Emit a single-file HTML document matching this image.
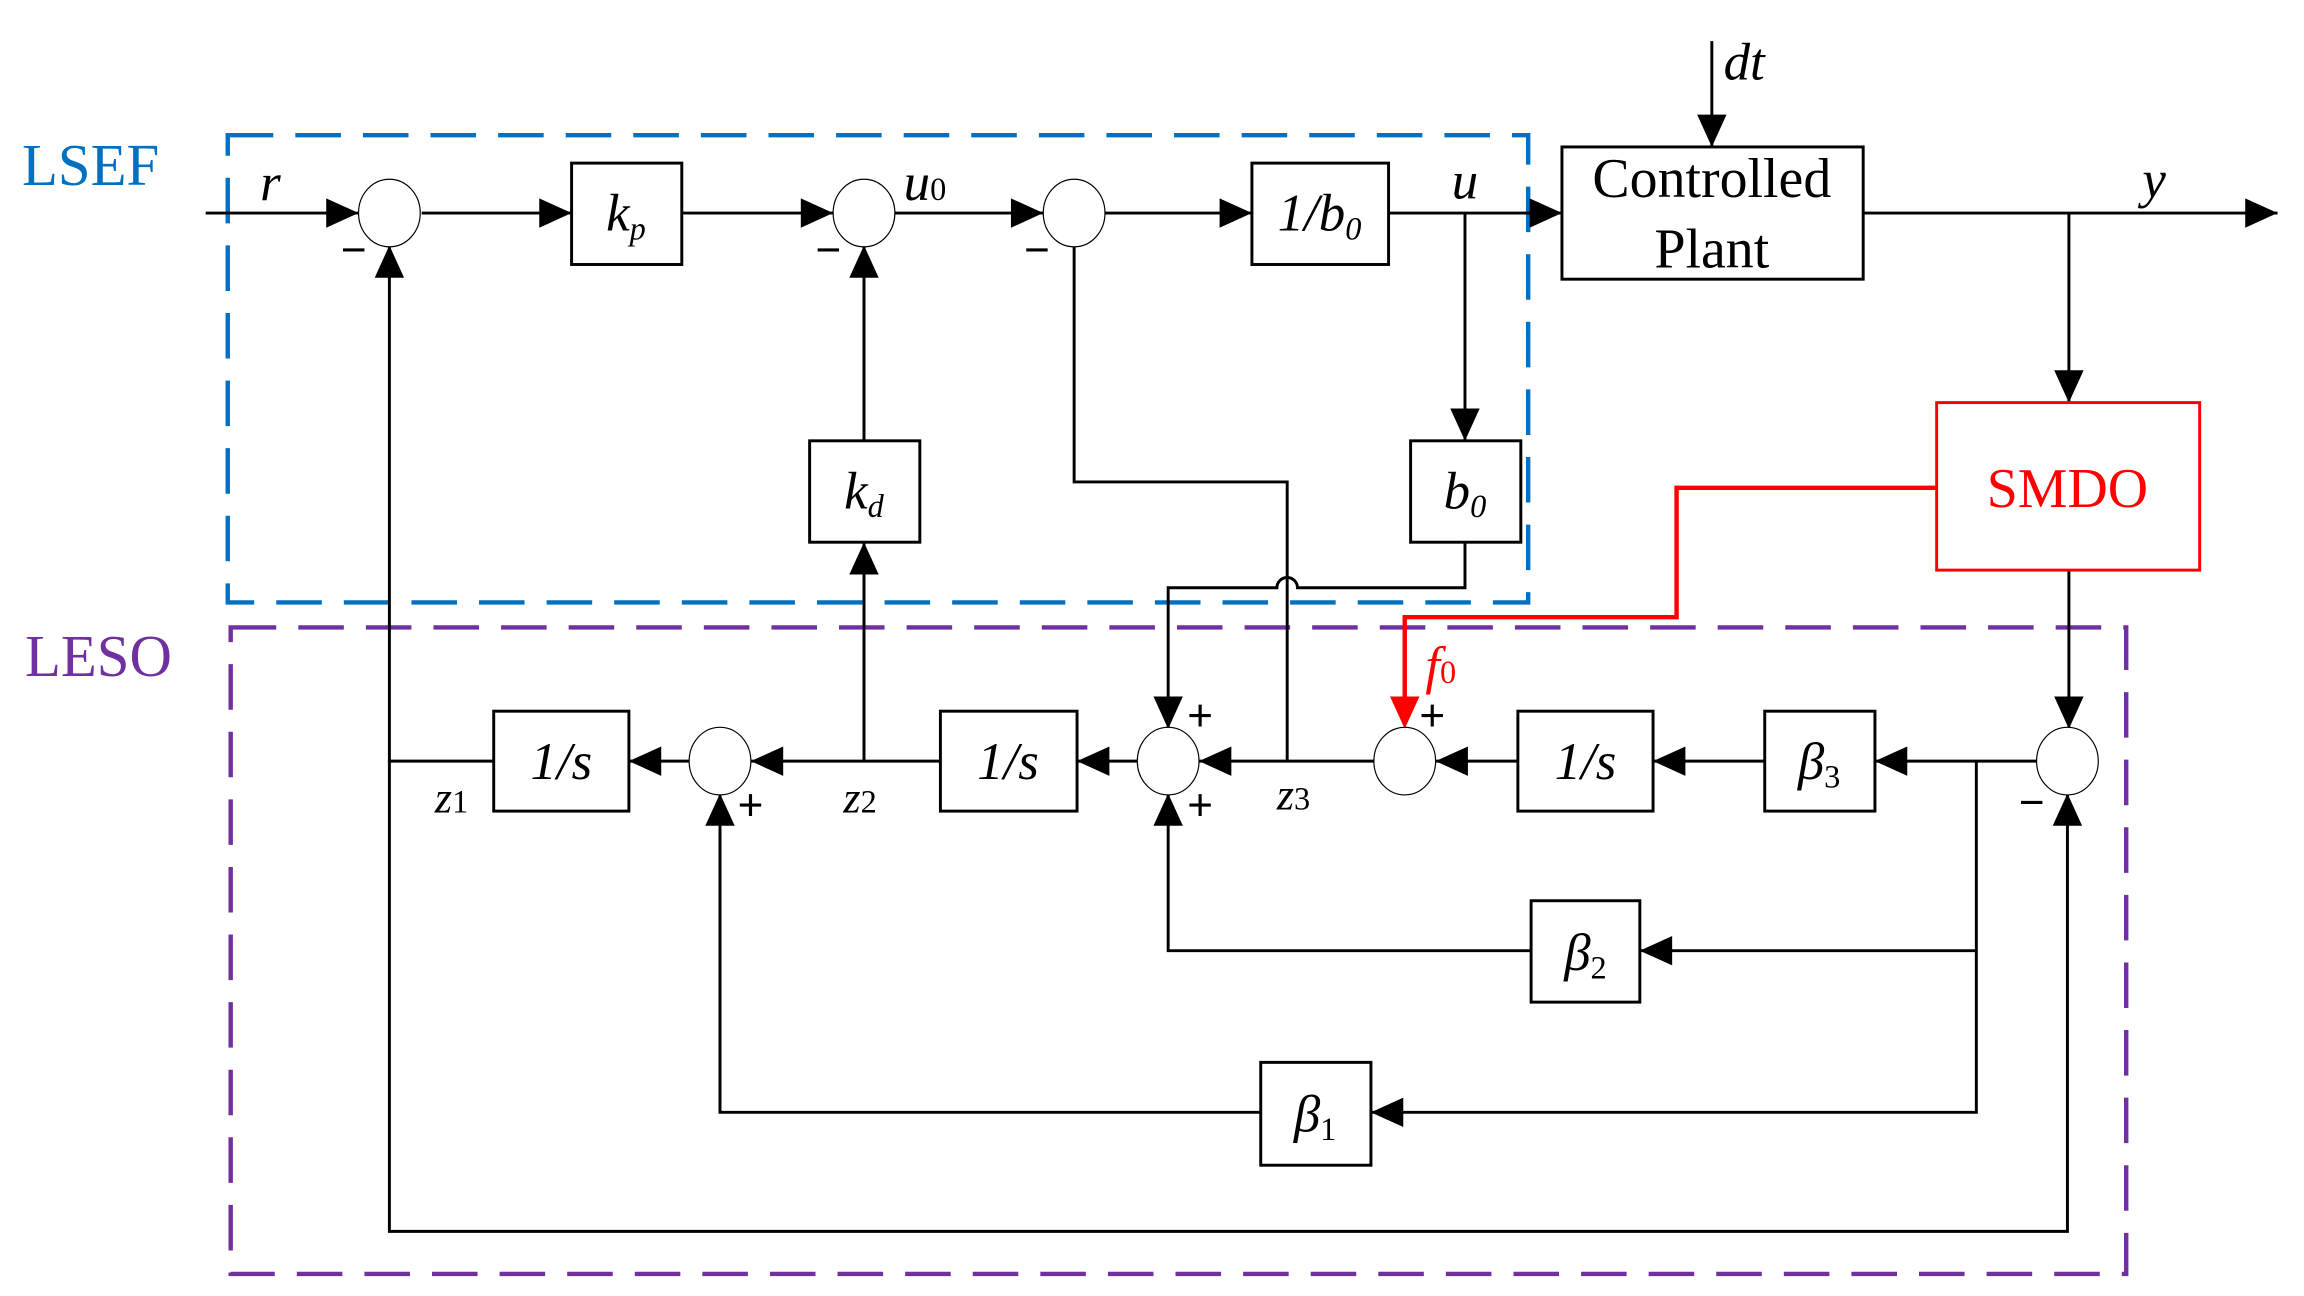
<!DOCTYPE html>
<html><head><meta charset="utf-8"><style>html,body{margin:0;padding:0;background:#fff}svg{display:block}</style></head><body>
<svg width="2304" height="1296" viewBox="0 0 1568 882" preserveAspectRatio="none" xmlns="http://www.w3.org/2000/svg" font-family="Liberation Serif, serif">
<style>
.l{stroke:#000;stroke-width:2;fill:none}
.b{stroke:#000;stroke-width:2;fill:#fff}
.c{stroke:#000;stroke-width:0.8;fill:#fff}
.t{font-size:36px;font-style:italic}
.s{font-size:22px}
</style>
<rect x="155" y="92" width="885" height="318" fill="none" stroke="#0070c0" stroke-width="3" stroke-dasharray="31,15"/>
<rect x="157" y="427" width="1290" height="440" fill="none" stroke="#7030a0" stroke-width="3" stroke-dasharray="31,15"/>
<text x="15" y="126" font-size="40" fill="#0070c0">LSEF</text>
<text x="17" y="460" font-size="40" fill="#7030a0">LESO</text>

<g class="l">
<path d="M140,145 H244"/><path d="M287,145 H389"/><path d="M464,145 H567"/><path d="M609,145 H710"/><path d="M752,145 H852"/><path d="M945,145 H1063"/>
<path d="M1268,145 H1550"/><path d="M1165,28 V100"/>
<path d="M1408,145 V274"/><path d="M1408,388 V496"/>
<path d="M588,300 V167"/>
<path d="M731,167 V328 H876 V518"/>
<path d="M997,145 V300"/>
<path d="M997,369 V400 H883 A7,7 0 0 0 869,400 H795 V496"/>
<path d="M1386,518 H1276"/><path d="M1201,518 H1125"/><path d="M1033,518 H977"/><path d="M935,518 H816"/><path d="M774,518 H733"/><path d="M640,518 H511"/><path d="M469,518 H428"/><path d="M336,518 H265 V167"/>
<path d="M588,518 V369"/>
<path d="M1345,518 V757 H933"/><path d="M1345,647 H1116"/>
<path d="M1042,647 H795 V540"/><path d="M858,757 H490 V540"/>
<path d="M265,518 V838 H1407 V540"/>
</g>
<g fill="#000">
<path d="M244,145 l-22,-10 v20z"/><path d="M389,145 l-22,-10 v20z"/><path d="M567,145 l-22,-10 v20z"/><path d="M710,145 l-22,-10 v20z"/><path d="M852,145 l-22,-10 v20z"/><path d="M1063,145 l-22,-10 v20z"/><path d="M1550,145 l-22,-10 v20z"/>
<path d="M1165,100 l-10,-22 h20z"/><path d="M1408,274 l-10,-22 h20z"/><path d="M1408,496 l-10,-22 h20z"/>
<path d="M997,300 l-10,-22 h20z"/><path d="M795,496 l-10,-22 h20z"/>
<path d="M265,167 l-10,22 h20z"/><path d="M588,167 l-10,22 h20z"/><path d="M588,369 l-10,22 h20z"/>
<path d="M795,540 l-10,22 h20z"/><path d="M490,540 l-10,22 h20z"/><path d="M1407,540 l-10,22 h20z"/>
<path d="M1276,518 l22,-10 v20z"/><path d="M1125,518 l22,-10 v20z"/><path d="M977,518 l22,-10 v20z"/><path d="M816,518 l22,-10 v20z"/><path d="M733,518 l22,-10 v20z"/><path d="M511,518 l22,-10 v20z"/><path d="M428,518 l22,-10 v20z"/>
<path d="M1116,647 l22,-10 v20z"/><path d="M933,757 l22,-10 v20z"/>
</g>
<path d="M1318,332 H1141 V420 H956 V476" stroke="#f00" stroke-width="3" fill="none"/>
<path d="M956,496 l-10,-22 h20z" fill="#f00"/>
<text x="970" y="465" class="t" fill="#f00" font-size="32">f<tspan class="s" font-size="20" font-style="normal">0</tspan></text>

<g class="c">
<ellipse cx="265" cy="145" rx="21" ry="23"/><ellipse cx="588" cy="145" rx="21" ry="23"/><ellipse cx="731" cy="145" rx="21" ry="23"/>
<ellipse cx="490" cy="518" rx="21" ry="23"/><ellipse cx="795" cy="518" rx="21" ry="23"/><ellipse cx="956" cy="518" rx="21" ry="23"/><ellipse cx="1407" cy="518" rx="21" ry="23"/>
</g>
<g class="b">
<rect x="389" y="111" width="75" height="69"/><rect x="852" y="111" width="93" height="69"/><rect x="1063" y="100" width="205" height="90"/>
<rect x="551" y="300" width="75" height="69"/><rect x="960" y="300" width="75" height="69"/>
<rect x="336" y="484" width="92" height="68"/><rect x="640" y="484" width="93" height="68"/><rect x="1033" y="484" width="92" height="68"/><rect x="1201" y="484" width="75" height="68"/>
<rect x="1042" y="613" width="74" height="69"/><rect x="858" y="723" width="75" height="70"/>
</g>
<rect x="1318" y="274" width="179" height="114" fill="#fff" stroke="#f00" stroke-width="2"/>
<text x="1407" y="345" font-size="38" fill="#f00" text-anchor="middle">SMDO</text>
<text x="1165" y="134" font-size="38" text-anchor="middle">Controlled</text>
<text x="1165" y="182" font-size="38" text-anchor="middle">Plant</text>

<g class="t" text-anchor="middle">
<text x="426" y="157">k<tspan class="s" dy="6">p</tspan></text>
<text x="898" y="157">1/b<tspan class="s" dy="6">0</tspan></text>
<text x="588" y="346">k<tspan class="s" dy="6">d</tspan></text>
<text x="997" y="346">b<tspan class="s" dy="6">0</tspan></text>
<text x="382" y="530">1/s</text><text x="686" y="530">1/s</text><text x="1079" y="530">1/s</text>
<text x="1238" y="530">β<tspan class="s" dy="6" font-style="normal">3</tspan></text>
<text x="1079" y="660">β<tspan class="s" dy="6" font-style="normal">2</tspan></text>
<text x="895" y="770">β<tspan class="s" dy="6" font-style="normal">1</tspan></text>
</g>
<g class="t">
<text x="177" y="136">r</text>
<text x="615" y="136">u<tspan class="s" font-style="normal">0</tspan></text>
<text x="988" y="135">u</text>
<text x="1173" y="54">dt</text>
<text x="1458" y="134">y</text>
<text x="296" y="553" font-size="30">z<tspan class="s" font-style="normal">1</tspan></text>
<text x="574" y="553" font-size="30">z<tspan class="s" font-style="normal">2</tspan></text>
<text x="869" y="551" font-size="30">z<tspan class="s" font-style="normal">3</tspan></text>
</g>
<g font-size="30" font-family="Liberation Sans, sans-serif">
<text x="232" y="180">−</text><text x="555" y="180">−</text><text x="697" y="180">−</text><text x="1374" y="556">−</text>
<text x="808" y="497">+</text><text x="808" y="558">+</text><text x="966" y="497">+</text><text x="502" y="558">+</text>
</g>
</svg>
</body></html>
